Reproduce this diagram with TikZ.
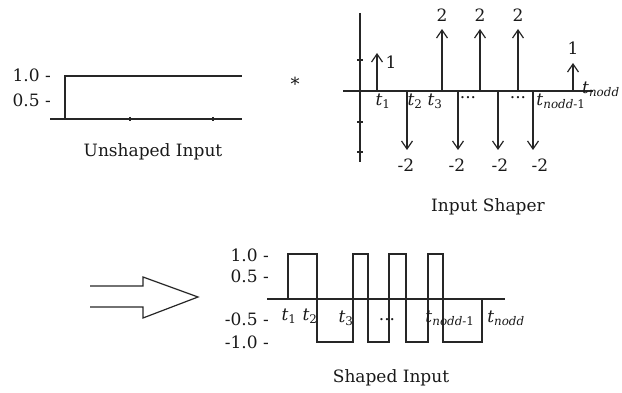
\documentclass[tikz,border=0pt]{standalone}
\usepackage{fontspec}
\setmainfont{DejaVu Serif}
\usetikzlibrary{arrows.meta}
\tikzset{
  ln/.style={line width=1.2pt, draw=black!85},
  imp/.style={ln, -{Straight Barb[length=8pt,width=11pt,line width=1.2pt]}},
  lbl/.style={font=\fontsize{17}{18}\selectfont, inner sep=0pt, text=black!90},
  tl/.style={font=\fontsize{17}{18}\selectfont, inner sep=0pt, text=black!90},
}
\newcommand{\tsub}[1]{\textit{t}\textsubscript{#1}}
\begin{document}
\begin{tikzpicture}[x=1pt,y=-1pt]
\useasboundingbox (0,0) rectangle (622,393);
% ---------- Unshaped input ----------
\draw[ln] (50,119) -- (242,119);
\draw[ln] (65,119) -- (65,76) -- (242,76);
\draw[ln] (130,117) -- (130,121);
\draw[ln] (213,117) -- (213,121);
\node[lbl, anchor=east] (u10) at (51,75) {1.0 -};
\node[lbl, anchor=east] (u05) at (51,100) {0.5 -};
\node[lbl] (ulab) at (153,152) {Unshaped Input};
% ---------- convolution star ----------
\node[lbl, font=\fontsize{18}{18}\selectfont] (star) at (295,84) {*};
% ---------- Input shaper ----------
\draw[ln] (360,13) -- (360,162);
\draw[ln] (343,91) -- (593,91);
\foreach \yy in {60,122,152} \draw[ln] (357,\yy) -- (363,\yy);
\draw[imp] (377,91) -- (377,53);
\foreach \xx in {442,480,518} \draw[imp] (\xx,91) -- (\xx,29);
\draw[imp] (573,91) -- (573,63);
\foreach \xx in {407,458,498,533} \draw[imp] (\xx,91) -- (\xx,150);
\node[lbl] (s1a) at (391,62) {1};
\node[lbl] (s1b) at (573,48) {1};
\node[lbl] (s2a) at (442,15) {2};
\node[lbl] (s2b) at (480,15) {2};
\node[lbl] (s2c) at (518,15) {2};
\node[lbl] (sm2a) at (406,165) {-2};
\node[lbl] (sm2b) at (457,165) {-2};
\node[lbl] (sm2c) at (500,165) {-2};
\node[lbl] (sm2d) at (540,165) {-2};
\node[tl] (st1) at (383,101) {\tsub{1}};
\node[tl] (st2) at (415,101) {\tsub{2}};
\node[tl] (st3) at (435,101) {\tsub{3}};
\node[lbl] (sd1) at (468,98) {...};
\node[lbl] (sd2) at (518,98) {...};
\node[tl] (stn1) at (561,101) {\tsub{\textit{nodd}-1}};
\node[tl, anchor=west] (stn) at (582,89) {\tsub{\textit{nodd}}};
\node[lbl] (slab) at (488,207) {Input Shaper};
% ---------- big hollow arrow ----------
\draw[ln] (90,286) -- (143,286) -- (143,277) -- (198,297) -- (143,318) -- (143,307) -- (90,307);
% ---------- Shaped input ----------
\draw[ln] (267,299) -- (505,299);
\draw[ln] (288,299) -- (288,254) -- (317,254) -- (317,342) -- (353,342) -- (353,254)
  -- (368,254) -- (368,342) -- (389,342) -- (389,254) -- (406,254) -- (406,342)
  -- (428,342) -- (428,254) -- (443,254) -- (443,342) -- (482,342) -- (482,299);
\node[lbl, anchor=east] (p10) at (269,255) {1.0 -};
\node[lbl, anchor=east] (p05) at (269,276) {0.5 -};
\node[lbl, anchor=east] (m05) at (269,319) {-0.5 -};
\node[lbl, anchor=east] (m10) at (269,342) {-1.0 -};
\node[tl] (pt1) at (289,316) {\tsub{1}};
\node[tl] (pt2) at (310,316) {\tsub{2}};
\node[tl] (pt3) at (346,318) {\tsub{3}};
\node[lbl] (pd) at (387,320) {...};
\node[tl] (ptn1) at (450,318) {\tsub{\textit{nodd}-1}};
\node[tl] (ptn) at (506,318) {\tsub{\textit{nodd}}};
\node[lbl] (plab) at (391,378) {Shaped Input};
\end{tikzpicture}
\end{document}
